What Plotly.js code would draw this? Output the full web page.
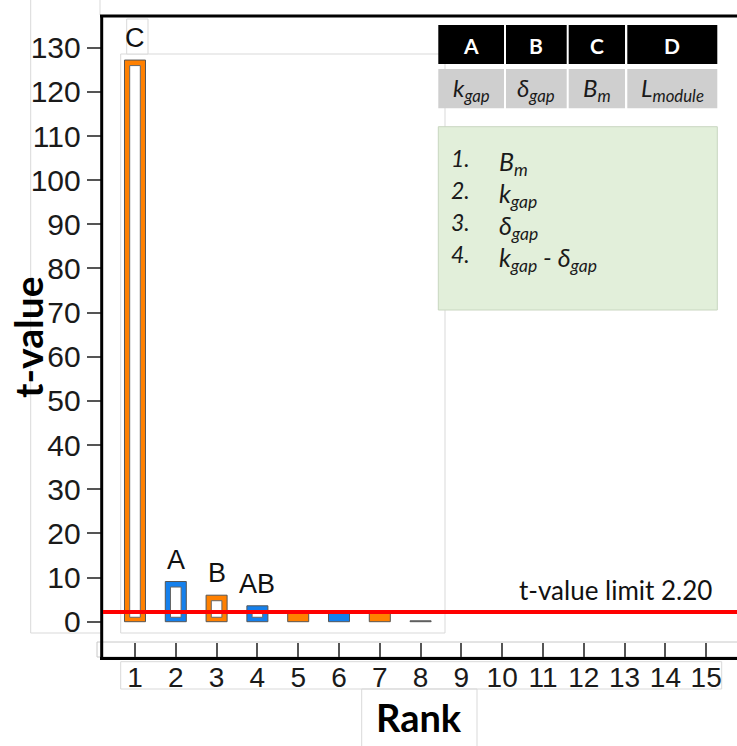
<!DOCTYPE html>
<html>
<head>
<meta charset="utf-8">
<script src="https://cdn.plot.ly/plotly-3.0.1.min.js"></script>
<style>html,body{margin:0;padding:0;background:#fff;}#chart{width:737px;height:746px;}</style>
</head>
<body>
<div id="chart"></div>
<script>
// ---------- data ----------
const ranks = [1, 2, 3, 4, 5, 6, 7, 8];
const tValues = [127.2, 9.1, 6.0, 3.6, 2.0, 2.0, 2.0, 0.2];
const barLabels = ['C', 'A', 'B', 'AB', '', '', '', ''];
const xTickVals = [1, 2, 3, 4, 5, 6, 7, 8, 9, 10, 11, 12, 13, 14, 15];
const yTickVals = [0, 10, 20, 30, 40, 50, 60, 70, 80, 90, 100, 110, 120, 130];
const tLimit = 2.20;
const limitLabel = 't-value limit 2.20';
const tableHeaders = ['A', 'B', 'C', 'D'];
const tableFactors = ['<i>k</i><sub><i>gap</i></sub>', '<i>δ</i><sub><i>gap</i></sub>', '<i>B</i><sub><i>m</i></sub>', '<i>L</i><sub><i>module</i></sub>'];
const rankNumbers = ['1.', '2.', '3.', '4.'];
const rankFactors = ['B<sub>m</sub>', 'k<sub>gap</sub>', 'δ<sub>gap</sub>', 'k<sub>gap</sub> - δ<sub>gap</sub>'];

// ---------- styles ----------
const ORANGE = '#FF8000', BLUE = '#1580EC', GREY = '#7f7f7f';
const barColors = [ORANGE, BLUE, ORANGE, BLUE, ORANGE, BLUE, ORANGE, GREY];
const W = 737, H = 746;
const px = x => x / W;
const py = y => 1 - y / H;
const PANEL = '#d9d9d9';

// inner white part of the hollow bars
const INNER_BASE = 1.0, INNER_TOP_INSET = 1.25;
const innerLen = tValues.map(v => {
  const l = v - INNER_TOP_INSET - INNER_BASE;
  return l > 0.8 ? l : null;
});

const outer = {
  type: 'bar', x: ranks, y: tValues, width: 0.515,
  marker: { color: barColors, line: { color: '#555', width: 1 } },
  hoverinfo: 'skip', showlegend: false
};
const inner = {
  type: 'bar', x: ranks, y: innerLen, base: INNER_BASE, width: 0.26,
  marker: { color: '#ffffff', line: { color: '#666', width: 1 } },
  hoverinfo: 'skip', showlegend: false
};

const shapes = [];
const annotations = [];
function pline(x0, y0, x1, y1, color, width, layer) {
  shapes.push({ type: 'line', xref: 'paper', yref: 'paper', x0: px(x0), y0: py(y0), x1: px(x1), y1: py(y1),
    line: { color: color, width: width }, layer: layer || 'above' });
}
function prect(x0, y0, x1, y1, fill, lineColor, lineWidth, layer) {
  shapes.push({ type: 'rect', xref: 'paper', yref: 'paper', x0: px(x0), y0: py(y0), x1: px(x1), y1: py(y1),
    fillcolor: fill, line: { color: lineColor, width: lineWidth }, layer: layer || 'above' });
}

// light panel outlines of the original composite
pline(30.7, 0, 30.7, 633, PANEL, 1, 'below');
pline(30.7, 633, 101, 633, PANEL, 1, 'below');
pline(100, 0, 100, 15, PANEL, 1, 'below');
prect(120.7, 54, 445, 633, 'rgba(0,0,0,0)', PANEL, 1, 'below');
prect(126.7, 19, 148, 54, '#ffffff', PANEL, 1, 'below');
prect(97, 642, 740, 657, 'rgba(0,0,0,0)', '#c8c8c8', 1, 'below');
prect(120.7, 661.7, 721.7, 689, 'rgba(0,0,0,0)', PANEL, 1, 'below');
prect(361.7, 689, 477, 750, 'rgba(0,0,0,0)', PANEL, 1, 'below');

// black frame
pline(101.7, 16, 101.7, 660, '#000', 3);
pline(100, 16, 740, 16, '#000', 3);
pline(100, 658.6, 740, 658.6, '#000', 3);

// t-value limit line
shapes.push({ type: 'line', xref: 'paper', yref: 'y', x0: px(103), x1: 1, y0: tLimit, y1: tLimit,
  line: { color: '#ff0000', width: 4 }, layer: 'above' });

// factor table
const colEdges = [[438.3, 504], [506, 566.7], [568.7, 625], [627.3, 717.3]];
colEdges.forEach((c, i) => {
  prect(c[0], 25, c[1], 64, '#000000', '#000000', 0);
  prect(c[0], 69, c[1], 108.3, '#cfcfcf', '#cfcfcf', 0);
  annotations.push({ xref: 'paper', yref: 'paper', x: px((c[0] + c[1]) / 2), y: py(45), text: '<b>' + tableHeaders[i] + '</b>',
    showarrow: false, xanchor: 'center', yanchor: 'middle', font: { family: 'Lato, sans-serif', size: 21, color: '#ffffff' } });
  annotations.push({ xref: 'paper', yref: 'paper', x: px((c[0] + c[1]) / 2), y: py(90), text: tableFactors[i],
    showarrow: false, xanchor: 'center', yanchor: 'middle', font: { family: 'Lato, sans-serif', size: 24, color: '#1a1a1a' } });
});

// rank list box
prect(438.3, 126.7, 717.3, 310, '#e2efda', '#c9d6c0', 1);
const rowY = [158, 190, 222, 254];
rankNumbers.forEach((n, i) => {
  annotations.push({ xref: 'paper', yref: 'paper', x: px(449), y: py(rowY[i]), text: '<i>' + n + '</i>',
    showarrow: false, xanchor: 'left', yanchor: 'middle', font: { family: 'Lato, sans-serif', size: 23, color: '#1a1a1a' } });
  annotations.push({ xref: 'paper', yref: 'paper', x: px(497), y: py(rowY[i] + 5), text: '<i>' + rankFactors[i] + '</i>',
    showarrow: false, xanchor: 'left', yanchor: 'middle', font: { family: 'Lato, sans-serif', size: 25, color: '#1a1a1a' } });
});

// bar labels
ranks.forEach((r, i) => {
  if (!barLabels[i]) return;
  annotations.push({ x: r, y: tValues[i], xref: 'x', yref: 'y', text: barLabels[i], showarrow: false,
    xanchor: 'center', yanchor: 'bottom', yshift: 5,
    font: { family: 'Liberation Sans, Arial, sans-serif', size: 27, color: '#111' } });
});

// limit label
annotations.push({ xref: 'paper', yref: 'paper', x: px(517), y: py(590), text: limitLabel, showarrow: false,
  xanchor: 'left', yanchor: 'middle', font: { family: 'Lato, sans-serif', size: 26, color: '#111' } });

// axis titles
annotations.push({ xref: 'paper', yref: 'paper', x: px(28), y: py(338), text: '<b>t-value</b>', textangle: -90,
  showarrow: false, xanchor: 'center', yanchor: 'middle', font: { family: 'Lato, sans-serif', size: 39, color: '#000' } });
annotations.push({ xref: 'paper', yref: 'paper', x: px(419), y: py(717), text: '<b>Rank</b>',
  showarrow: false, xanchor: 'center', yanchor: 'middle', font: { family: 'Lato, sans-serif', size: 38, color: '#000' } });

const layout = {
  width: W, height: H,
  margin: { l: 0, r: 0, t: 0, b: 0, pad: 0 },
  paper_bgcolor: '#ffffff', plot_bgcolor: 'rgba(0,0,0,0)',
  barmode: 'overlay', showlegend: false,
  xaxis: {
    domain: [101.7 / W, 1], range: [0.184, 15.755], automargin: false,
    tickmode: 'array', tickvals: xTickVals, ticktext: xTickVals.map(String),
    ticks: 'inside', ticklen: 15, tickwidth: 2, tickcolor: '#555',
    showgrid: false, zeroline: false, showline: false,
    tickfont: { family: 'Liberation Sans, Arial, sans-serif', size: 28, color: '#1a1a1a' }
  },
  yaxis: {
    domain: [1 - 658.3 / H, 1 - 16 / H], range: [-8.29, 137.18], automargin: false,
    tickmode: 'array', tickvals: yTickVals, ticktext: yTickVals.map(String),
    ticks: 'outside', ticklen: 14, tickwidth: 2, tickcolor: '#555',
    showgrid: false, zeroline: false, showline: false,
    tickfont: { family: 'Liberation Sans, Arial, sans-serif', size: 30, color: '#1a1a1a' }
  },
  shapes: shapes, annotations: annotations
};

Plotly.newPlot('chart', [outer, inner], layout, { displayModeBar: false, staticPlot: true });
</script>
</body>
</html>
